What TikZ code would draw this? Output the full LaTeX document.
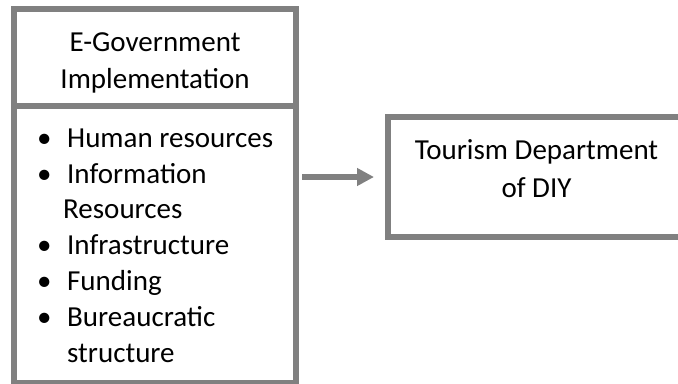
\documentclass[tikz,border=0pt]{standalone}
\usepackage{fontspec}
\setmainfont{Carlito}
\usetikzlibrary{arrows.meta}
\definecolor{boxgray}{RGB}{128,128,128}
\tikzset{
  frame/.style={draw=boxgray, line width=6bp, fill=white, inner sep=0pt},
  txt/.style={inner sep=0pt, font=\fontsize{29bp}{37bp}\selectfont, text=black},
  conn/.style={draw=boxgray, line width=6bp, -{Triangle[length=17bp,width=17bp]}}
}
\begin{document}
\begin{tikzpicture}[x=1bp,y=-1bp]
\clip (0,0) rectangle (678,383);
\fill[white] (0,0) rectangle (678,383);
\node[frame, minimum width=282bp, minimum height=97bp] (head) at (155,57.5) {};
\node[frame, minimum width=282bp, minimum height=276.5bp] (body) at (155,244.25) {};
\node[frame, minimum width=312bp, minimum height=120bp] (dept) at (544,177) {};
\node[txt, align=center, anchor=base] (headtxt) at (155,88) {E-Government\\Implementation};
\node[txt, align=left, anchor=base west, font=\fontsize{29bp}{35.8bp}\selectfont] (list) at (37,362) {%
\makebox[30bp][l]{\textbullet}Human resources\\
\makebox[30bp][l]{\textbullet}Information\\
\hspace*{26bp}Resources\\
\makebox[30bp][l]{\textbullet}Infrastructure\\
\makebox[30bp][l]{\textbullet}Funding\\
\makebox[30bp][l]{\textbullet}Bureaucratic\\
\hspace*{30bp}structure};
\node[txt, align=center, anchor=base, font=\fontsize{29bp}{38bp}\selectfont] (depttxt) at (536.5,197) {Tourism Department\\of DIY};
\draw[conn, shorten <=3bp, shorten >=11bp] (body.east |- dept.west) -- (dept.west);
\end{tikzpicture}
\end{document}
